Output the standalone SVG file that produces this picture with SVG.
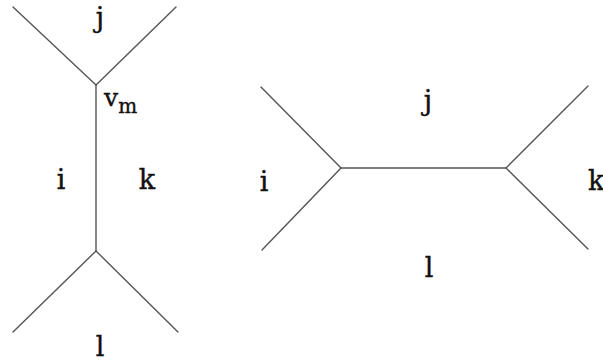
<svg xmlns="http://www.w3.org/2000/svg" width="603" height="362" viewBox="0 0 603 362">
<style>
.e{stroke:#555;stroke-width:1.4;fill:none;stroke-linecap:round}
.t{font-family:"DejaVu Serif","Liberation Serif",serif;font-size:27px;fill:#111;stroke:#111;stroke-width:0.4;text-anchor:middle}
.s{font-family:"DejaVu Serif","Liberation Serif",serif;fill:#111;stroke:#111;stroke-width:0.4}
</style>
<rect width="603" height="362" fill="#fff"/>
<g id="connectors">
<line class="e" x1="13" y1="7" x2="96" y2="85"/>
<line class="e" x1="176" y1="7" x2="96" y2="85"/>
<line class="e" x1="96" y1="85" x2="96" y2="251"/>
<line class="e" x1="96" y1="251" x2="13" y2="332"/>
<line class="e" x1="96" y1="251" x2="178" y2="332"/>
<line class="e" x1="261" y1="87" x2="341" y2="168"/>
<line class="e" x1="262" y1="250" x2="341" y2="168"/>
<line class="e" x1="341" y1="168" x2="506" y2="168"/>
<line class="e" x1="506" y1="168" x2="588" y2="86"/>
<line class="e" x1="506" y1="168" x2="588" y2="249"/>
</g>
<g id="left-figure">
<text class="t" x="100" y="27">j</text>
<text class="t" x="61" y="189">i</text>
<text class="t" x="147" y="189">k</text>
<text class="t" x="100" y="356">l</text>
<text class="s" x="104" y="106" font-size="25">v<tspan font-size="20" dy="7">m</tspan></text>
</g>
<g id="right-figure">
<text class="t" x="428" y="110">j</text>
<text class="t" x="264" y="191">i</text>
<text class="t" x="588" y="190" style="text-anchor:start">k</text>
<text class="t" x="429" y="277">l</text>
</g>
</svg>
